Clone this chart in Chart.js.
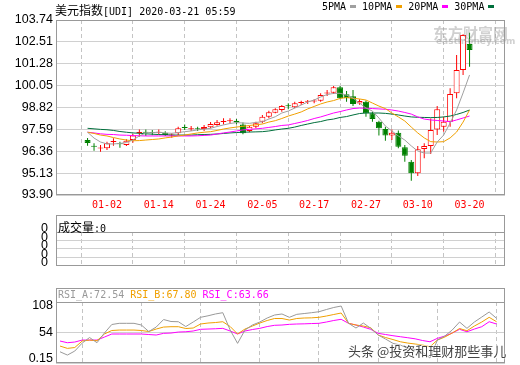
<!DOCTYPE html>
<html>
<head>
<meta charset="utf-8">
<script src="https://cdn.jsdelivr.net/npm/chart.js@4.4.1/dist/chart.umd.min.js"></script>
<style>
  body { margin: 0; background: #fff; }
  #wrap { position: relative; width: 520px; height: 365px; overflow: hidden; background: #fff; }
  canvas { position: absolute; left: 0; }
  .txt { position: absolute; white-space: nowrap; line-height: 14px; height: 14px; }
  .cjk { font: 12px 'Noto Sans CJK SC', sans-serif; }
  .mono { font: 10px 'DejaVu Sans Mono', monospace; }
  .sw { display: inline-block; width: 6px; height: 3px; vertical-align: middle; margin: 0 6px 1px 4px; }
</style>
</head>
<body>
<div id="wrap">
  <canvas id="main" width="520" height="215" style="top:0"></canvas>
  <canvas id="vol" width="520" height="66" style="top:215px"></canvas>
  <canvas id="rsi" width="520" height="80" style="top:285px"></canvas>

  <div class="txt" style="left:55px;top:1px;color:#000"><span class="cjk">美元指数</span><span class="mono">[UDI] 2020-03-21 05:59</span></div>
  <div class="txt mono" style="left:322px;top:1px;color:#000">5PMA<span class="sw" style="background:#a0a0a0"></span>10PMA<span class="sw" style="background:#f0a000"></span>20PMA<span class="sw" style="background:#ff00ff"></span>30PMA<span class="sw" style="background:#006f3c;margin-right:0"></span></div>

  <div class="txt" style="left:433px;top:22px;font:bold 15px 'Noto Sans CJK SC',sans-serif;color:rgba(150,150,150,0.45)">东方财富网</div>
  <div class="txt" style="left:436px;top:36px;font:bold 9px 'DejaVu Sans',sans-serif;color:rgba(150,150,150,0.45)">eastmoney.com</div>

  <div class="txt" style="left:58px;top:218px;color:#000"><span class="cjk">成交量</span><span class="mono">:0</span></div>

  <div class="txt mono" style="left:58px;top:289px"><span style="color:#999">RSI_A:72.54</span> <span style="color:#f0a000">RSI_B:67.80</span> <span style="color:#ff00ff">RSI_C:63.66</span></div>

  <div class="txt" style="left:348px;top:341px;font:13px 'Noto Sans CJK SC',sans-serif;color:#444;text-shadow:0 0 2px #fff,0 0 2px #fff,0 0 2px #fff">头条 @投资和理财那些事儿</div>
</div>
<script>
// x axis dates (index of the candle where each label sits)
var dates = ['01-02', '01-14', '01-24', '02-05', '02-17', '02-27', '03-10', '03-20'];
var dateIdx = [3, 11, 19, 27, 35, 43, 51, 59];
var priceTicks = [93.90, 95.13, 96.36, 97.59, 98.82, 100.05, 101.28, 102.51, 103.74];
var rsiTicks = [0.15, 54, 108];
var volTicks = [0, 1, 2, 3, 4];

var open = [96.99, 96.64, 96.52, 96.53, 96.88, 96.80, 96.71, 96.99, 97.38, 97.42,
  97.41, 97.40, 97.40, 97.24, 97.37, 97.69, 97.60, 97.62, 97.61, 97.71,
  97.84, 98.01, 98.05, 98.08, 97.87, 97.50, 97.74, 98.02, 98.30, 98.53,
  98.68, 98.91, 98.83, 99.07, 99.14, 99.16, 99.20, 99.61, 99.65, 99.96,
  99.56, 99.45, 99.04, 99.15, 98.49, 98.02, 97.61, 97.24, 97.40, 96.58,
  95.77, 95.12, 96.49, 96.66, 97.59, 97.74, 98.02, 99.62, 100.93, 102.39];
var close = [96.82, 96.62, 96.54, 96.81, 96.92, 96.75, 96.95, 97.24, 97.41, 97.40,
  97.39, 97.43, 97.27, 97.29, 97.65, 97.67, 97.62, 97.60, 97.72, 97.89,
  97.99, 98.03, 98.07, 97.97, 97.37, 97.74, 97.93, 98.30, 98.55, 98.72,
  98.90, 98.89, 99.06, 99.11, 99.16, 99.18, 99.52, 99.64, 99.96, 99.34,
  99.34, 99.02, 99.19, 98.49, 98.17, 97.65, 97.24, 97.40, 96.62, 96.11,
  95.12, 96.47, 96.66, 97.56, 98.72, 98.02, 99.58, 100.93, 102.90, 102.05];
var high = [97.11, 96.81, 96.71, 96.90, 97.09, 96.90, 97.03, 97.33, 97.59, 97.59,
  97.56, 97.59, 97.48, 97.37, 97.74, 97.87, 97.78, 97.74, 97.84, 98.00,
  98.12, 98.21, 98.21, 98.17, 97.97, 97.80, 98.02, 98.40, 98.64, 98.78,
  98.96, 99.06, 99.15, 99.20, 99.24, 99.28, 99.62, 99.80, 100.03, 100.03,
  99.75, 99.80, 99.28, 99.22, 98.58, 98.08, 97.74, 97.59, 97.52, 96.71,
  95.87, 96.66, 96.81, 98.20, 98.90, 98.30, 99.90, 101.77, 102.94, 103.03];
var low = [96.67, 96.39, 96.33, 96.43, 96.67, 96.56, 96.66, 96.84, 97.18, 97.22,
  97.26, 97.33, 97.22, 97.12, 97.27, 97.56, 97.50, 97.50, 97.50, 97.65,
  97.80, 97.87, 97.93, 97.87, 97.32, 97.43, 97.65, 97.93, 98.21, 98.49,
  98.58, 98.72, 98.78, 98.96, 99.02, 99.06, 99.15, 99.47, 99.58, 99.28,
  99.15, 98.90, 98.97, 98.30, 98.02, 97.24, 96.95, 96.99, 96.53, 95.77,
  94.70, 94.97, 95.96, 96.20, 97.27, 97.46, 97.74, 99.34, 100.65, 101.11];

var ma5 = [97.43, 97.10, 96.88, 96.77, 96.77, 96.80, 96.85, 96.99, 97.22, 97.39,
  97.41, 97.43, 97.39, 97.37, 97.41, 97.46, 97.50, 97.56, 97.61, 97.65,
  97.75, 97.84, 97.92, 97.97, 97.95, 97.93, 97.98, 98.02, 98.17, 98.30,
  98.51, 98.62, 98.79, 98.96, 99.13, 99.24, 99.41, 99.55, 99.61, 99.62,
  99.52, 99.35, 99.07, 98.79, 98.62, 98.23, 97.78, 97.50, 97.22, 96.99,
  96.66, 96.37, 96.26, 96.26, 96.88, 97.27, 97.95, 98.68, 99.64, 100.65];
var ma10 = [97.43, 97.36, 97.27, 97.22, 97.13, 97.05, 96.99, 96.95, 96.96, 96.99,
  97.02, 97.05, 97.11, 97.16, 97.22, 97.27, 97.33, 97.39, 97.43, 97.46,
  97.53, 97.61, 97.67, 97.72, 97.76, 97.81, 97.85, 97.89, 98.00, 98.08,
  98.20, 98.34, 98.45, 98.57, 98.74, 98.88, 99.02, 99.13, 99.21, 99.33,
  99.38, 99.34, 99.30, 99.24, 99.07, 98.90, 98.76, 98.51, 98.29, 98.06,
  97.72, 97.39, 97.11, 96.90, 96.88, 96.90, 97.11, 97.44, 98.00, 98.68];
var ma20 = [97.43, 97.39, 97.34, 97.31, 97.30, 97.27, 97.26, 97.24, 97.23, 97.22,
  97.22, 97.22, 97.22, 97.22, 97.22, 97.22, 97.22, 97.23, 97.25, 97.27,
  97.33, 97.39, 97.44, 97.50, 97.56, 97.59, 97.62, 97.65, 97.70, 97.75,
  97.81, 97.84, 97.92, 98.00, 98.09, 98.20, 98.29, 98.40, 98.51, 98.59,
  98.68, 98.76, 98.79, 98.78, 98.76, 98.74, 98.72, 98.68, 98.62, 98.54,
  98.45, 98.29, 98.17, 98.12, 98.09, 98.06, 98.02, 98.12, 98.23, 98.34];
var ma30 = [97.65, 97.62, 97.59, 97.57, 97.53, 97.47, 97.43, 97.39, 97.37, 97.34,
  97.32, 97.30, 97.29, 97.27, 97.27, 97.27, 97.27, 97.29, 97.30, 97.31,
  97.33, 97.36, 97.39, 97.41, 97.43, 97.44, 97.45, 97.46, 97.50, 97.56,
  97.61, 97.65, 97.72, 97.81, 97.89, 97.97, 98.03, 98.12, 98.17, 98.26,
  98.31, 98.40, 98.48, 98.51, 98.51, 98.51, 98.49, 98.45, 98.40, 98.34,
  98.29, 98.27, 98.26, 98.25, 98.26, 98.29, 98.34, 98.43, 98.54, 98.68];

var rsiA = [20.0, 14.2, 21.3, 35.4, 45.2, 36.0, 53.1, 68.2, 70.3, 70.3,
  70.3, 67.3, 55.8, 63.7, 77.0, 73.5, 73.1, 64.6, 72.6, 80.9,
  83.6, 86.8, 89.1, 58.4, 34.9, 58.4, 67.3, 72.6, 79.7, 85.0,
  86.8, 80.9, 86.2, 87.6, 89.1, 90.8, 94.7, 98.3, 100.9, 70.3,
  62.0, 70.8, 61.4, 49.6, 42.5, 34.9, 31.9, 26.0, 23.9, 19.5,
  8.9, 40.7, 47.8, 58.4, 72.6, 61.4, 72.6, 81.4, 90.3, 79.1];
var rsiB = [30.1, 26.0, 27.5, 39.0, 40.7, 39.5, 51.4, 57.6, 58.4, 58.4,
  58.4, 57.6, 55.8, 60.2, 63.7, 64.3, 64.3, 61.1, 62.0, 69.1,
  70.8, 71.7, 73.1, 64.6, 51.4, 60.2, 65.5, 70.8, 75.3, 78.8,
  78.8, 76.1, 78.8, 79.7, 80.0, 80.9, 83.2, 85.9, 88.5, 70.3,
  67.3, 65.5, 62.5, 49.6, 45.2, 41.6, 37.7, 35.4, 33.7, 31.9,
  28.9, 40.7, 46.0, 53.1, 61.1, 57.2, 65.5, 72.6, 80.9, 73.1];
var rsiC = [39.0, 36.0, 37.2, 40.7, 40.7, 40.7, 46.0, 51.4, 51.4, 51.4,
  51.4, 51.4, 50.5, 49.6, 52.6, 53.1, 54.9, 55.4, 56.7, 59.7,
  60.2, 60.7, 61.4, 56.7, 51.4, 56.7, 59.3, 61.4, 64.6, 66.8,
  67.3, 68.5, 69.1, 69.4, 69.9, 70.3, 72.6, 75.3, 77.4, 70.3,
  67.3, 63.7, 59.7, 52.6, 50.5, 48.4, 46.6, 44.8, 42.9, 39.9,
  37.7, 43.7, 47.8, 53.1, 59.7, 55.4, 60.2, 64.3, 73.1, 69.1];

var RED = '#ff0000', GREEN = '#008000';
var X_MIN = -0.54, X_MAX = 60.14;

function pts(arr) {
  return arr.map(function(v, i) { return {x: i, y: v}; });
}
function upDown(i, upColor, downColor) {
  return close[i] >= open[i] ? upColor : downColor;
}
function lineSet(data, color, order) {
  return {type: 'line', data: pts(data), borderColor: color, borderWidth: 1,
    pointRadius: 0, tension: 0, fill: false, order: order};
}

// box around the plot, with an optional title strip on top
var frame = {
  id: 'frame',
  afterDraw: function(chart, args, opts) {
    var ctx = chart.ctx, a = chart.chartArea, head = opts.head || 0;
    var l = Math.round(a.left) + 0.5, r = Math.round(a.right) - 0.5;
    var t = Math.round(a.top - head) + 0.5, b = Math.round(a.bottom) - 0.5;
    ctx.save();
    ctx.strokeStyle = '#999';
    ctx.lineWidth = 1;
    ctx.strokeRect(l, t, r - l, b - t);
    if (head) {
      ctx.beginPath();
      ctx.moveTo(l, Math.round(a.top) + 0.5);
      ctx.lineTo(r, Math.round(a.top) + 0.5);
      ctx.stroke();
    }
    ctx.restore();
  }
};

function xScale(showLabels) {
  return {
    type: 'linear', min: X_MIN, max: X_MAX,
    afterBuildTicks: function(s) { s.ticks = dateIdx.map(function(v) { return {value: v}; }); },
    afterFit: function(s) { s.height = showLabels ? 20 : 0; },
    grid: {color: '#c4c4c4', drawTicks: false},
    border: {display: false, dash: [4, 3]},
    ticks: {
      display: showLabels, autoSkip: false, maxRotation: 0, padding: 4,
      color: RED, font: {family: 'DejaVu Sans Mono', size: 10},
      callback: function(v) { return dates[dateIdx.indexOf(v)]; }
    }
  };
}

function baseOptions(extra) {
  return {
    responsive: false, animation: false, events: [],
    plugins: {legend: {display: false}, tooltip: {enabled: false}, frame: extra.frame || {}},
    layout: {padding: extra.padding},
    scales: {x: xScale(extra.xLabels), y: extra.y}
  };
}

// main price chart
new Chart(document.getElementById('main'), {
  type: 'bar',
  data: {
    datasets: [
      lineSet(ma5, '#a0a0a0', 0),
      lineSet(ma10, '#f0a000', 0),
      lineSet(ma20, '#ff00ff', 0),
      lineSet(ma30, '#006f3c', 0),
      {
        data: open.map(function(o, i) { return {x: i, y: [o, close[i]]}; }),
        backgroundColor: open.map(function(o, i) { return upDown(i, '#ffffff', GREEN); }),
        borderColor: open.map(function(o, i) { return upDown(i, RED, GREEN); }),
        borderWidth: 1, borderSkipped: false, barThickness: 6, minBarLength: 1,
        inflateAmount: 0, grouped: false, order: 1
      },
      {
        data: low.map(function(l, i) { return {x: i, y: [l, high[i]]}; }),
        backgroundColor: open.map(function(o, i) { return upDown(i, RED, GREEN); }),
        borderWidth: 0, barThickness: 1, inflateAmount: 0, grouped: false, order: 2
      }
    ]
  },
  options: baseOptions({
    padding: {top: 20, right: 15, left: 0, bottom: 0},
    xLabels: true,
    y: {
      type: 'linear', min: 93.90, max: 103.74,
      afterBuildTicks: function(s) { s.ticks = priceTicks.map(function(v) { return {value: v}; }); },
      afterFit: function(s) { s.width = 56; },
      grid: {color: '#d0d0d0', drawTicks: false},
      border: {display: false},
      ticks: {autoSkip: false, padding: 3, color: '#000', font: {family: 'Liberation Sans', size: 12.5},
        callback: function(v) { return v.toFixed(2); }}
    }
  }),
  plugins: [frame]
});

// volume panel (no volume reported)
new Chart(document.getElementById('vol'), {
  type: 'bar',
  data: {datasets: []},
  options: baseOptions({
    padding: {top: 17, right: 15, left: 0, bottom: 2},
    xLabels: false,
    frame: {head: 17},
    y: {
      type: 'linear', min: 0, max: 4,
      afterBuildTicks: function(s) { s.ticks = volTicks.map(function(v) { return {value: v}; }); },
      afterFit: function(s) { s.width = 56; },
      grid: {color: '#d0d0d0', drawTicks: false},
      border: {display: false},
      ticks: {autoSkip: false, padding: 8, labelOffset: -3, color: '#000',
        font: {family: 'Liberation Sans', size: 12.5},
        callback: function() { return '0'; }}
    }
  }),
  plugins: [frame]
});

// RSI axis labels, kept inside the panel edges
var rsiLabels = {
  id: 'rsiLabels',
  afterDraw: function(chart) {
    var ctx = chart.ctx, s = chart.scales.y, a = chart.chartArea;
    ctx.save();
    ctx.fillStyle = '#000';
    ctx.font = '12.5px "Liberation Sans"';
    ctx.textAlign = 'right';
    ctx.textBaseline = 'middle';
    rsiTicks.forEach(function(v) {
      var y = Math.min(Math.max(s.getPixelForValue(v), a.top + 4), a.bottom - 4);
      ctx.fillText(String(v), a.left - 3, y);
    });
    ctx.restore();
  }
};

new Chart(document.getElementById('rsi'), {
  type: 'line',
  data: {
    datasets: [
      lineSet(rsiA, '#999999', 0),
      lineSet(rsiB, '#f0a000', 0),
      lineSet(rsiC, '#ff00ff', 0)
    ]
  },
  options: baseOptions({
    padding: {top: 17, right: 15, left: 0, bottom: 2},
    xLabels: false,
    frame: {head: 14},
    y: {
      type: 'linear', min: 0.15, max: 108,
      afterBuildTicks: function(s) { s.ticks = rsiTicks.map(function(v) { return {value: v}; }); },
      afterFit: function(s) { s.width = 56; },
      grid: {color: '#d0d0d0', drawTicks: false},
      border: {display: false},
      ticks: {display: false}
    }
  }),
  plugins: [frame, rsiLabels]
});
</script>
</body>
</html>
